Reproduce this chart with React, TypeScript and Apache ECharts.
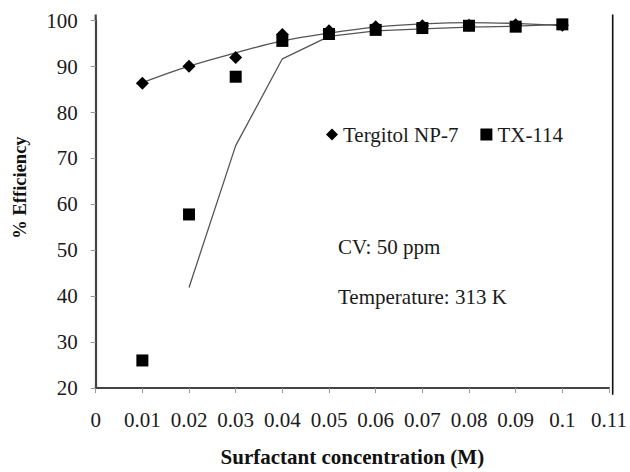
import React, { useEffect, useRef } from "react";
import * as echarts from "echarts";

const xValues = [0.01, 0.02, 0.03, 0.04, 0.05, 0.06, 0.07, 0.08, 0.09, 0.1];
const tergitolMarkers = [86.4, 90.1, 92.0, 97.0, 97.8, 98.7, 98.9, 99.0, 99.1, 99.0];
const tx114Markers = [26.0, 57.8, 87.8, 95.6, 97.1, 98.0, 98.4, 98.9, 98.7, 99.2];
const tergitolTrend = [86.5, 90.1, 93.0, 95.6, 97.3, 98.6, 99.3, 99.6, 99.4, 98.9];
const tx114TrendX = [0.02, 0.03, 0.04, 0.05, 0.06, 0.07, 0.08, 0.09, 0.1];
const tx114Trend = [41.9, 72.8, 91.7, 96.6, 97.8, 98.2, 98.6, 98.8, 99.2];
const seriesNames = ["Tergitol NP-7", "TX-114"];
const notes = ["CV: 50 ppm", "Temperature: 313 K"];

const FONT = "'Liberation Serif', 'Times New Roman', serif";

export default function App() {
  const ref = useRef<HTMLDivElement>(null);
  useEffect(() => {
    document.body.style.margin = "0";
    const chart = echarts.init(ref.current!, null, { renderer: "svg" });
    const pair = (xs: number[], ys: number[]) => xs.map((x, i) => [x, ys[i]]);
    const L = 95.7, R = 612.7, T = 20.7, B = 394.7;
    chart.setOption({
      animation: false,
      backgroundColor: "#ffffff",
      textStyle: { fontFamily: FONT },
      grid: { left: L, right: 630 - R, top: T, bottom: 472 - B },
      xAxis: {
        type: "value",
        min: 0,
        max: 0.11,
        interval: 0.01,
        name: "Surfactant concentration (M)",
        nameLocation: "middle",
        nameGap: 58,
        nameTextStyle: { fontFamily: FONT, fontWeight: "bold", fontSize: 21, color: "#111" },
        axisLine: { lineStyle: { color: "#444", width: 2.2 } },
        axisTick: { show: true, inside: false, length: 5, lineStyle: { color: "#999", width: 1 } },
        axisLabel: {
          margin: 21,
          fontFamily: FONT,
          fontSize: 21,
          color: "#1a1a1a",
          formatter: (v: number) => String(Number(v.toFixed(2))),
        },
        splitLine: { show: false },
      },
      yAxis: {
        type: "value",
        min: 20,
        max: 100,
        interval: 10,
        axisLine: { show: true, lineStyle: { color: "#444", width: 2.2 } },
        axisTick: { show: true, inside: false, length: 5, lineStyle: { color: "#999", width: 1 } },
        axisLabel: { margin: 18, fontFamily: FONT, fontSize: 21, color: "#1a1a1a" },
        splitLine: { show: false },
      },
      legend: {
        left: 321,
        top: 119,
        itemWidth: 12,
        itemHeight: 12,
        itemGap: 22,
        textStyle: { fontFamily: FONT, fontSize: 21, color: "#1a1a1a" },
        data: [
          { name: seriesNames[0], icon: "diamond", itemStyle: { opacity: 1 } },
          { name: seriesNames[1], icon: "rect", itemStyle: { opacity: 1 } },
        ],
      },
      graphic: [
        { type: "line", shape: { x1: L, y1: 14.5, x2: L, y2: T }, style: { stroke: "#444", lineWidth: 2.2 } },
        { type: "line", shape: { x1: R, y1: 14.5, x2: R, y2: B }, style: { stroke: "#111", lineWidth: 1.6 } },
        {
          type: "text",
          x: 20,
          y: 187.5,
          rotation: Math.PI / 2,
          style: {
            text: "% Efficiency",
            font: `bold 18.5px ${FONT}`,
            fill: "#111",
            align: "center",
            verticalAlign: "middle",
          },
        },
        {
          type: "text",
          x: 338,
          y: 247,
          style: { text: notes[0], font: `21px ${FONT}`, fill: "#1a1a1a", align: "left", verticalAlign: "middle" },
        },
        {
          type: "text",
          x: 338,
          y: 297,
          style: { text: notes[1], font: `21px ${FONT}`, fill: "#1a1a1a", align: "left", verticalAlign: "middle" },
        },
      ],
      series: [
        {
          name: "Tergitol trend",
          type: "line",
          data: pair(xValues, tergitolTrend),
          showSymbol: false,
          smooth: 0.4,
          lineStyle: { color: "#555", width: 1.3 },
          z: 1,
        },
        {
          name: "TX-114 trend",
          type: "line",
          data: pair(tx114TrendX, tx114Trend),
          showSymbol: false,
          lineStyle: { color: "#555", width: 1.3 },
          z: 1,
        },
        {
          name: seriesNames[0],
          type: "scatter",
          symbol: "diamond",
          symbolSize: [13, 13],
          data: pair(xValues, tergitolMarkers),
          itemStyle: { color: "#000", opacity: 1 },
          z: 2,
        },
        {
          name: seriesNames[1],
          type: "scatter",
          symbol: "rect",
          symbolSize: [12, 12],
          data: pair(xValues, tx114Markers),
          itemStyle: { color: "#000", opacity: 1 },
          z: 3,
        },
      ],
    });
    return () => chart.dispose();
  }, []);
  return <div ref={ref} style={{ position: "fixed", left: 0, top: 0, width: 630, height: 472 }} />;
}
